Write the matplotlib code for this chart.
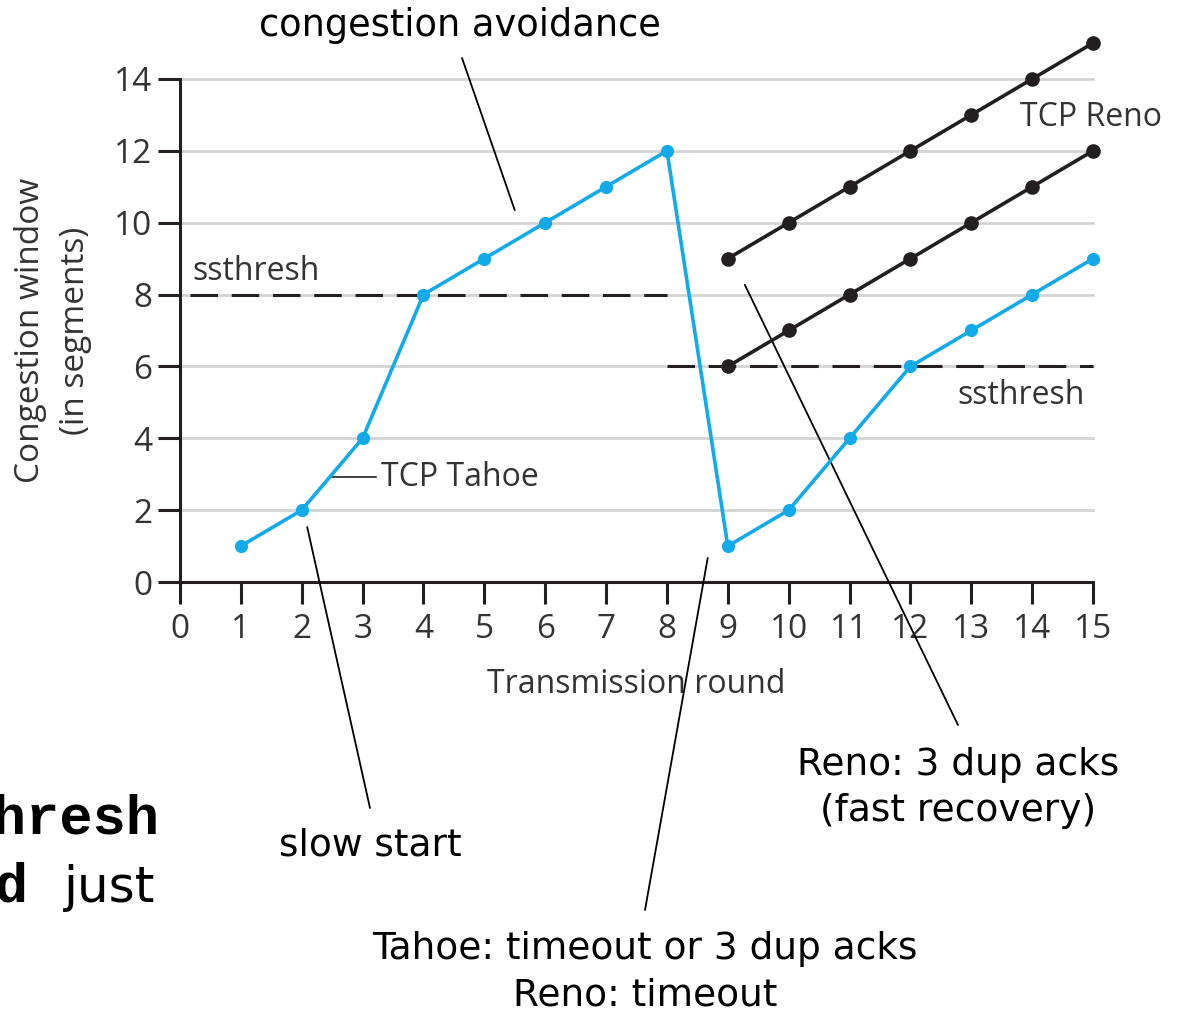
import numpy as np
import matplotlib.pyplot as plt

# Transmission rounds and congestion window (segments)
rounds = np.arange(1, 16)
tahoe_cwnd = [1, 2, 4, 8, 9, 10, 11, 12, 1, 2, 4, 6, 7, 8, 9]
reno_rounds = np.arange(9, 16)
reno_upper = [9, 10, 11, 12, 13, 14, 15]
reno_lower = [6, 7, 8, 9, 10, 11, 12]
ssthresh_before = 8
ssthresh_after = 6
x_ticks = list(range(0, 16))
y_ticks = list(range(0, 15, 2))

BLUE = '#12aae8'
DARK = '#231f20'
GRID = '#d4d4d4'
TXT = '#333333'
chart_font = 'Open Sans'
note_font = 'DejaVu Sans'

fig = plt.figure(figsize=(11.82, 10.15), dpi=100)
ax = fig.add_axes([0.1368, 0.4089, 0.8034, 0.531])
ax.set_xlim(-0.3, 15.3)
ax.set_ylim(-0.5, 14.5)

# grid lines
for y in y_ticks[1:]:
    ax.plot([0, 15], [y, y], color=GRID, lw=2, zorder=1)

# ssthresh dashed lines
ax.plot([0.17, 8], [ssthresh_before] * 2, color=DARK, lw=2.2, dashes=(9, 4.5), zorder=2)
ax.plot([8, 15], [ssthresh_after] * 2, color=DARK, lw=2.2, dashes=(9, 4.5), zorder=2)

# curves
ax.plot(rounds, tahoe_cwnd, color=BLUE, lw=2.6, marker='o', ms=8.5, zorder=4, clip_on=False)
ax.plot(reno_rounds, reno_upper, color=DARK, lw=2.6, marker='o', ms=9.5, zorder=4, clip_on=False)
ax.plot(reno_rounds, reno_lower, color=DARK, lw=2.6, marker='o', ms=9.5, zorder=4, clip_on=False)

# axes
for side in ['top', 'right']:
    ax.spines[side].set_visible(False)
ax.spines['left'].set_bounds(0, 14)
ax.spines['bottom'].set_bounds(0, 15)
ax.spines['left'].set_position(('data', 0))
ax.spines['bottom'].set_position(('data', 0))
for side in ['left', 'bottom']:
    ax.spines[side].set_linewidth(2.2)
    ax.spines[side].set_color(DARK)
ax.set_xticks(x_ticks)
ax.set_yticks(y_ticks)
ax.tick_params(length=16, width=2.2, color=DARK, labelsize=24, labelcolor=TXT)
ax.tick_params(axis='x', pad=6)
ax.tick_params(axis='y', pad=4)
for lab in ax.get_xticklabels() + ax.get_yticklabels():
    lab.set_fontfamily(chart_font)

ax.set_xlabel('Transmission round', fontsize=23, family=chart_font, color=TXT, labelpad=16)
ax.set_ylabel('Congestion window\n(in segments)', fontsize=24, family=chart_font,
              color=TXT, labelpad=16, linespacing=1.45)

# in-chart labels
ax.text(0.21, 8.63, 'ssthresh', fontsize=23, family=chart_font, color=TXT, va='center')
ax.text(14.87, 5.2, 'ssthresh', fontsize=23, family=chart_font, color=TXT,
        va='center', ha='right')
ax.text(13.8, 12.94, 'TCP Reno', fontsize=23, family=chart_font, color=TXT, va='center')
ax.plot([2.46, 3.22], [2.92, 2.92], color=DARK, lw=1.2, zorder=3)
ax.text(3.3, 2.92, 'TCP Tahoe', fontsize=23, family=chart_font, color=TXT, va='center')

# callouts
line_kw = dict(arrowstyle='-', lw=1.3, color='black', shrinkA=0, shrinkB=0)
ax.annotate('', xy=(5.50, 10.35), xytext=(462, 957), textcoords='figure pixels',
            arrowprops=line_kw, annotation_clip=False)
ax.annotate('', xy=(2.09, 1.53), xytext=(370, 207), textcoords='figure pixels',
            arrowprops=line_kw, annotation_clip=False)
ax.annotate('', xy=(8.67, 0.67), xytext=(645, 105), textcoords='figure pixels',
            arrowprops=line_kw, annotation_clip=False)
ax.annotate('', xy=(9.28, 8.27), xytext=(958, 290), textcoords='figure pixels',
            arrowprops=line_kw, annotation_clip=False)

def fpx(x, y):
    return x / 1182, 1 - y / 1015

fig.text(*fpx(460, 25), 'congestion avoidance', fontsize=26.5, family=note_font,
         ha='center', va='center')
fig.text(*fpx(370, 845), 'slow start', fontsize=27, family=note_font,
         ha='center', va='center')
fig.text(*fpx(645, 972), 'Tahoe: timeout or 3 dup acks\nReno: timeout', fontsize=27,
         family=note_font, ha='center', va='center', linespacing=1.38)
fig.text(*fpx(958, 788), 'Reno: 3 dup acks\n(fast recovery)', fontsize=27,
         family=note_font, ha='center', va='center', linespacing=1.38)

# text running in from the left edge
fig.text(*fpx(4, 760), '.', fontsize=36, family=note_font, ha='right', va='baseline')
fig.text(*fpx(160, 833), 'ssthresh', fontsize=40, family='Liberation Mono',
         weight='bold', ha='right', va='baseline')
fig.text(*fpx(28, 902), 'cwnd', fontsize=40, family='Liberation Mono',
         weight='bold', ha='right', va='baseline')
fig.text(*fpx(64, 902), 'just', fontsize=36, family=note_font,
         ha='left', va='baseline')

fig.savefig('out.png', dpi=100)
